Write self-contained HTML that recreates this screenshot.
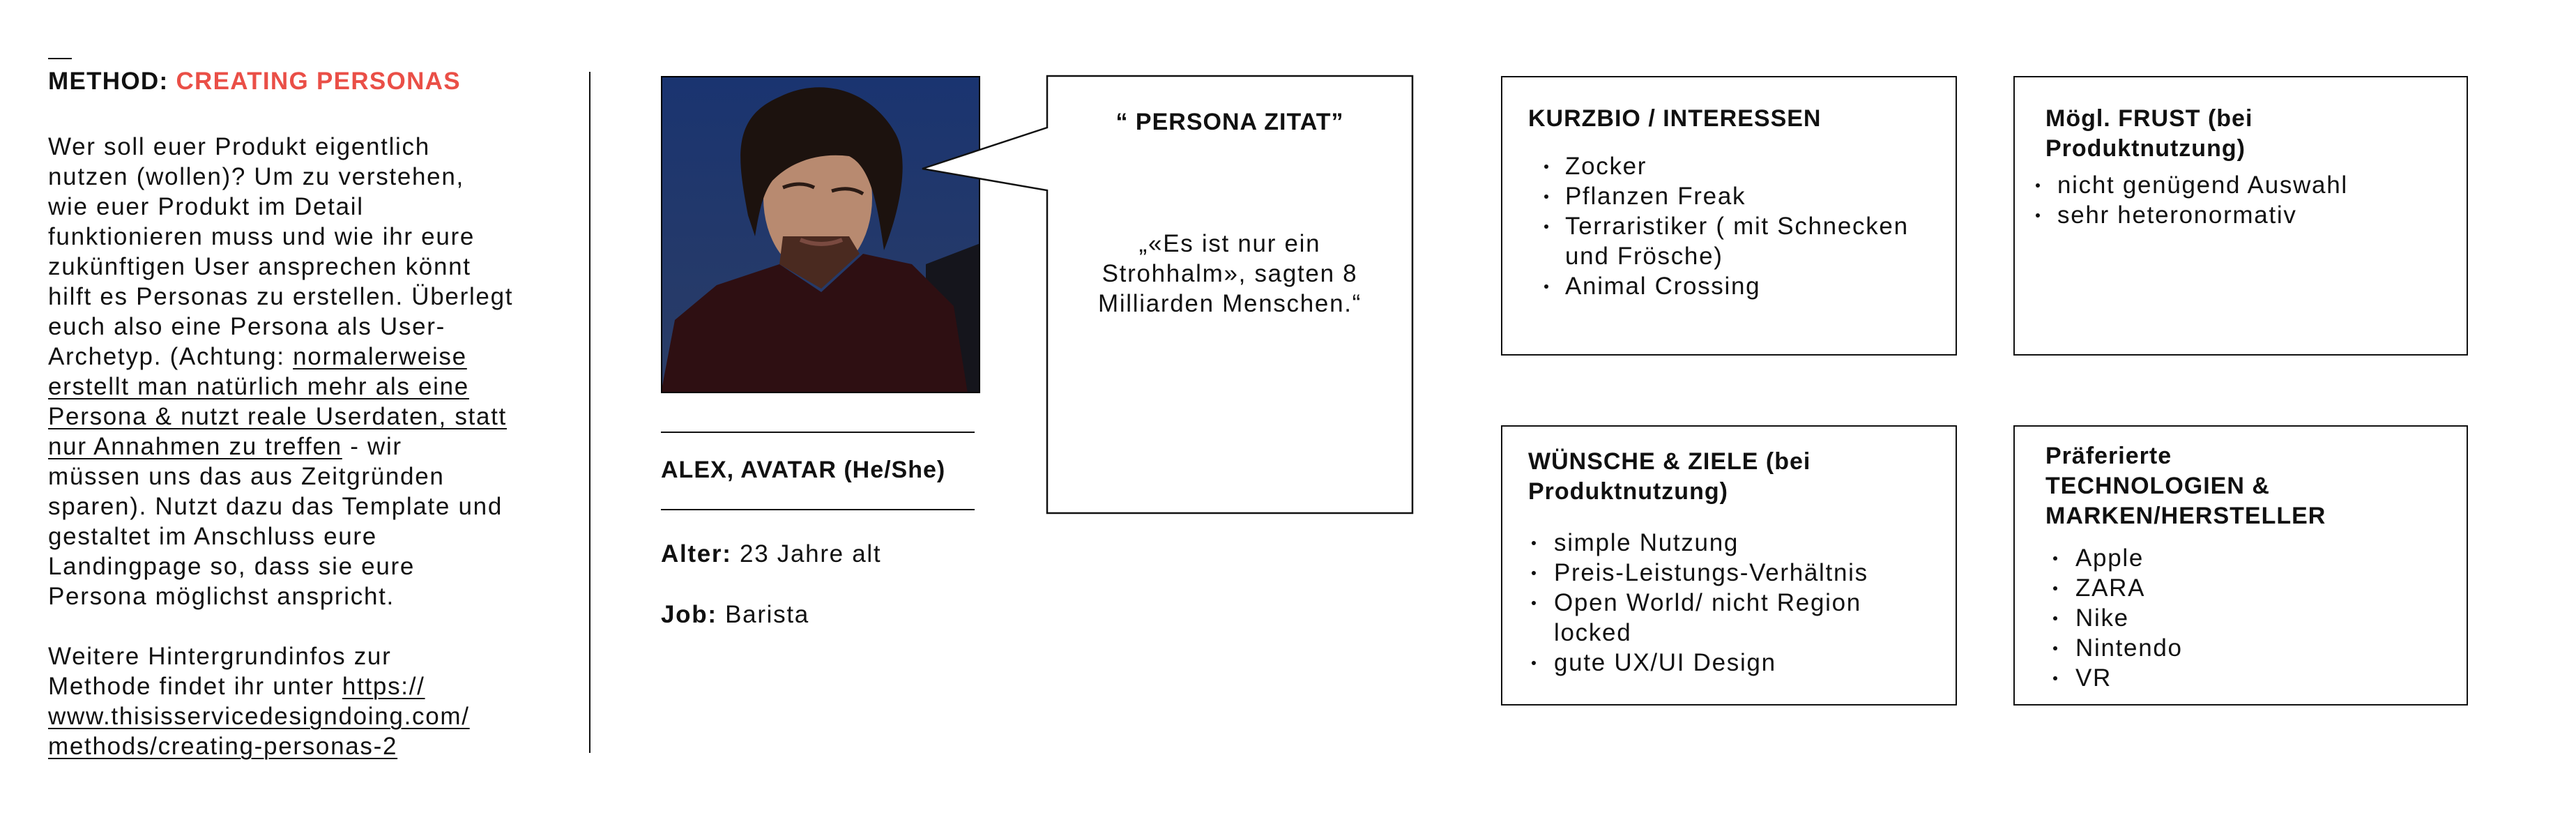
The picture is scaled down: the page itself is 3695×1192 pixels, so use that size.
<!DOCTYPE html>
<html><head><meta charset="utf-8"><style>
*{margin:0;padding:0;box-sizing:border-box}
body{width:3695px;height:1192px;background:#fff;position:relative;overflow:hidden;font-family:"Liberation Sans",sans-serif;color:#111}
.a{position:absolute;white-space:nowrap}
.t{font-size:35px;line-height:43px;letter-spacing:1.7px}
.b{font-weight:bold;font-size:34px;letter-spacing:1px}
.box{position:absolute;border:2px solid #111}
u{text-decoration:underline;text-decoration-thickness:2px;text-underline-offset:5px}
.dot{position:absolute;width:6px;height:6px;border-radius:50%;background:#111}
</style></head><body>
<div class="a" style="left:69px;top:83px;width:34px;height:2px;background:#111"></div>
<div class="a b" style="left:69px;top:95px;font-size:35px;line-height:43px;letter-spacing:1.3px">METHOD: <span style="color:#ea4f47">CREATING PERSONAS</span></div>
<div class="a t" style="left:69px;top:189px">Wer soll euer Produkt eigentlich<br>nutzen (wollen)? Um zu verstehen,<br>wie euer Produkt im Detail<br>funktionieren muss und wie ihr eure<br>zukünftigen User ansprechen könnt<br>hilft es Personas zu erstellen. Überlegt<br>euch also eine Persona als User-<br>Archetyp. (Achtung: <u>normalerweise</u><br><u>erstellt man natürlich mehr als eine</u><br><u>Persona &amp; nutzt reale Userdaten, statt</u><br><u>nur Annahmen zu treffen</u> - wir<br>müssen uns das aus Zeitgründen<br>sparen). Nutzt dazu das Template und<br>gestaltet im Anschluss eure<br>Landingpage so, dass sie eure<br>Persona möglichst anspricht.<br><br>Weitere Hintergrundinfos zur<br>Methode findet ihr unter <u>https://</u><br><u>www.thisisservicedesigndoing.com/</u><br><u>methods/creating-personas-2</u></div>
<div class="a" style="left:845px;top:103px;width:2px;height:977px;background:#111"></div>

<svg class="a" style="left:948px;top:109px" width="458" height="455" viewBox="0 0 458 455">
<defs><linearGradient id="sky" x1="0" y1="0" x2="0" y2="1"><stop offset="0" stop-color="#1a3470"/><stop offset="1" stop-color="#2b3d66"/></linearGradient></defs>
<rect width="458" height="455" fill="url(#sky)"/>
<path d="M380 270 L458 240 L458 455 L380 455Z" fill="#15151c"/>
<path d="M0 455 L20 350 L80 300 L170 270 L230 310 L290 255 L360 270 L420 330 L440 455Z" fill="#2e0f12"/>
<ellipse cx="225" cy="175" rx="78" ry="110" fill="#b88a70"/>
<path d="M170 270 L230 305 L285 255 L270 230 L175 230Z" fill="#4a2a20"/>
<path d="M125 200 C110 120 100 60 170 30 C230 0 300 20 335 80 C360 120 340 200 320 250 C310 180 300 130 270 115 C230 110 190 120 160 150 C145 170 140 200 135 230Z" fill="#1c120e"/>
<path d="M175 160 q25-10 45 0 M245 165 q25-8 45 4" stroke="#2a1a14" stroke-width="5" fill="none"/>
<path d="M200 235 q30 12 60 0" stroke="#7a4a40" stroke-width="6" fill="none"/>
</svg>
<div class="a" style="left:948px;top:109px;width:458px;height:455px;border:2px solid #000"></div>

<div class="a" style="left:948px;top:619px;width:450px;height:2px;background:#111"></div>
<div class="a b" style="left:948px;top:653px;line-height:43px">ALEX, AVATAR (He/She)</div>
<div class="a" style="left:948px;top:730px;width:450px;height:2px;background:#111"></div>
<div class="a t" style="left:948px;top:773px"><b>Alter:</b> 23 Jahre alt</div>
<div class="a t" style="left:948px;top:860px"><b>Job:</b> Barista</div>

<svg class="a" style="left:1300px;top:100px" width="740" height="650">
<path d="M202 9 L726 9 L726 636 L202 636 L202 173 L23 142 L202 83 Z" fill="#fff" stroke="#111" stroke-width="2.5"/>
</svg>
<div class="a b" style="left:1502px;width:524px;text-align:center;top:154px;line-height:43px">“ PERSONA ZITAT”</div>
<div class="a t" style="left:1502px;width:524px;text-align:center;top:328px;white-space:normal">„«Es ist nur ein<br>Strohhalm», sagten 8<br>Milliarden Menschen.“</div>

<div class="box" style="left:2153px;top:109px;width:654px;height:401px"></div>
<div class="a b t" style="left:2192px;top:149px">KURZBIO / INTERESSEN</div>
<div class="a t" style="left:2245px;top:217px">Zocker<br>Pflanzen Freak<br>Terraristiker ( mit Schnecken<br>und Frösche)<br>Animal Crossing</div>
<div class="dot" style="left:2215px;top:236px"></div><div class="dot" style="left:2215px;top:279px"></div><div class="dot" style="left:2215px;top:322px"></div><div class="dot" style="left:2215px;top:408px"></div>

<div class="box" style="left:2888px;top:109px;width:652px;height:401px"></div>
<div class="a b t" style="left:2934px;top:149px">Mögl. FRUST (bei<br>Produktnutzung)</div>
<div class="a t" style="left:2951px;top:244px">nicht genügend Auswahl<br>sehr heteronormativ</div>
<div class="dot" style="left:2920px;top:263px"></div><div class="dot" style="left:2920px;top:306px"></div>

<div class="box" style="left:2153px;top:610px;width:654px;height:402px"></div>
<div class="a b t" style="left:2192px;top:641px">WÜNSCHE &amp; ZIELE (bei<br>Produktnutzung)</div>
<div class="a t" style="left:2229px;top:757px">simple Nutzung<br>Preis-Leistungs-Verhältnis<br>Open World/ nicht Region<br>locked<br>gute UX/UI Design</div>
<div class="dot" style="left:2197px;top:776px"></div><div class="dot" style="left:2197px;top:819px"></div><div class="dot" style="left:2197px;top:862px"></div><div class="dot" style="left:2197px;top:948px"></div>

<div class="box" style="left:2888px;top:610px;width:652px;height:402px"></div>
<div class="a b t" style="left:2934px;top:633px">Präferierte<br>TECHNOLOGIEN &amp;<br>MARKEN/HERSTELLER</div>
<div class="a t" style="left:2977px;top:779px">Apple<br>ZARA<br>Nike<br>Nintendo<br>VR</div>
<div class="dot" style="left:2945px;top:798px"></div><div class="dot" style="left:2945px;top:841px"></div><div class="dot" style="left:2945px;top:884px"></div><div class="dot" style="left:2945px;top:927px"></div><div class="dot" style="left:2945px;top:970px"></div>
</body></html>
